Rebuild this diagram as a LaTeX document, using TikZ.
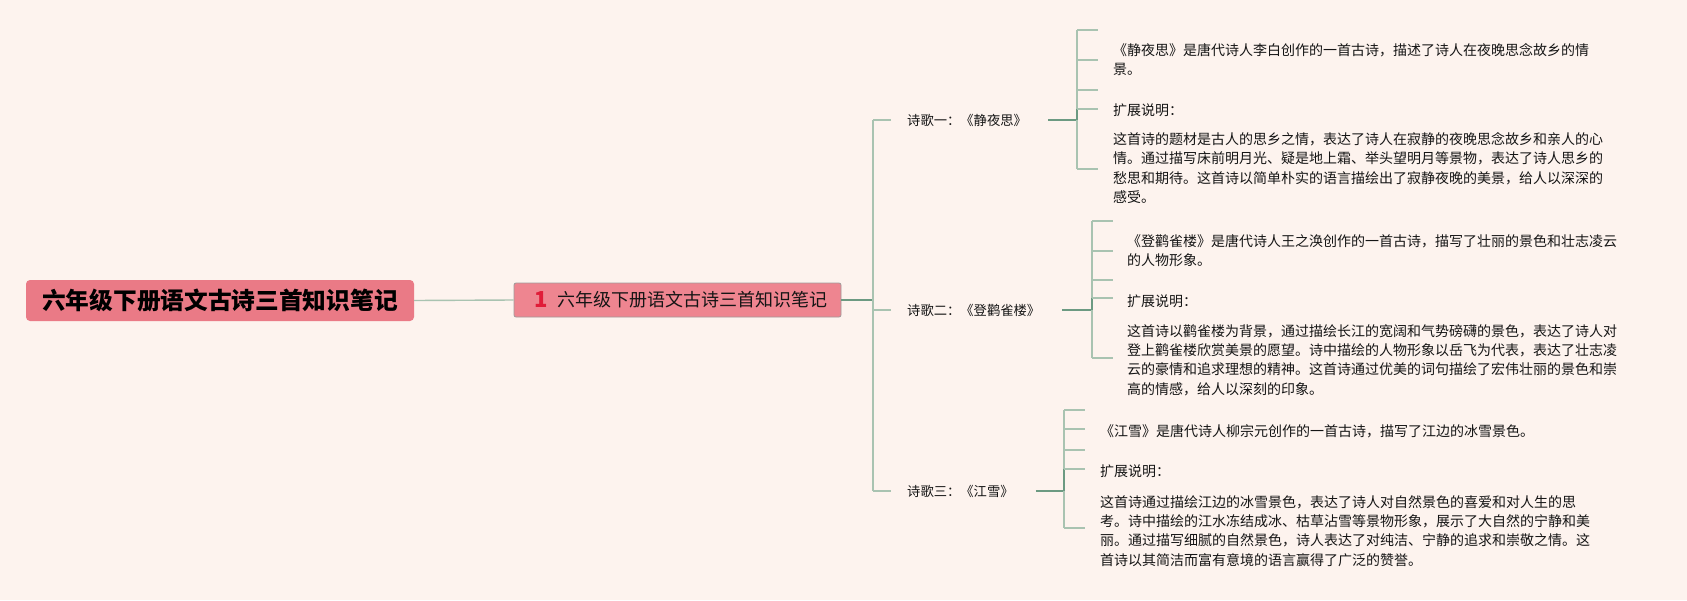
\documentclass[tikz,border=0pt]{standalone}
\usepackage{fontspec}
\setmainfont{Noto Sans CJK SC}
\definecolor{bgc}{HTML}{FDF3EE}
\definecolor{rootfill}{HTML}{EA7A86}
\definecolor{cenfill}{HTML}{EE8590}
\definecolor{cenborder}{HTML}{A09A9A}
\definecolor{numred}{HTML}{E01C38}
\definecolor{thinc}{HTML}{A9C3B1}
\definecolor{thickc}{HTML}{6C9A82}
\definecolor{txt}{HTML}{151515}
\tikzset{
  leaf/.style={anchor=west, inner sep=0pt, align=left, text=txt, font=\fontsize{14}{19.2}\selectfont},
  lab/.style={anchor=west, inner sep=0pt, text=txt, font=\fontsize{13.3}{16}\selectfont},
  thinline/.style={draw=thinc, line width=1.4pt},
  thickline/.style={draw=thickc, line width=2pt},
}
\begin{document}
\begin{tikzpicture}[x=1pt,y=-1pt]
\fill[bgc] (0,0) rectangle (1687,600);
\useasboundingbox (0,0) rectangle (1687,600);

% root
\node[fill=rootfill, rounded corners=4pt, minimum width=388pt, minimum height=41pt, inner sep=0pt,
  font=\fontsize{23.7}{26}\selectfont\bfseries, text=black] (root) at (220,300.5) {六年级下册语文古诗三首知识笔记};

% central
\node[fill=cenfill, draw=cenborder, line width=0.8pt, rounded corners=2pt, minimum width=327pt, minimum height=34pt, inner sep=0pt] (central) at (677.5,300) {};
\node[inner sep=0pt, text=numred, font=\fontsize{22}{22}\selectfont\bfseries] (num) at (541,300) {1};
\node[anchor=west, inner sep=0pt, text=txt, font=\fontsize{18}{20}\selectfont] (centxt) at (557,300) {六年级下册语文古诗三首知识笔记};

\draw[thinline] (root.east) -- (central.west);
\coordinate (J) at (873,300);
\draw[draw=thickc, line width=1.6pt] (central.east) -- (J);

% trunk
\coordinate (J1) at (873,120);
\coordinate (J2) at (873,310);
\coordinate (J3) at (873,491);
\draw[thinline] (J1) -- (J3);

% branch labels
\node[lab] (L1) at (907,120) {诗歌一：《静夜思》};
\node[lab] (L2) at (907,310) {诗歌二：《登鹳雀楼》};
\node[lab] (L3) at (907,491) {诗歌三：《江雪》};

\draw[thinline] (J1) -- ([xshift=-16pt]L1.west);
\draw[thinline] (J2) -- ([xshift=-16pt]L2.west);
\draw[thinline] (J3) -- ([xshift=-16pt]L3.west);

% ---------- poem 1 ----------
\coordinate (B1) at (1077,120);
\draw[thickline] ([xshift=21pt]L1.east) -- (B1);
\coordinate (B1a) at (1077,30);
\coordinate (B1b) at (1077,60);
\coordinate (B1c) at (1077,90);
\coordinate (B1d) at (1077,109);
\coordinate (B1e) at (1077,169);
\coordinate (E1a) at (1098,30);
\coordinate (E1c) at (1098,90);
\draw[thinline] (B1a) -- (B1e);
\draw[thickline] (B1d) -- (B1);
\node[leaf] (t11) at (1113,59.5) {《静夜思》是唐代诗人李白创作的一首古诗，描述了诗人在夜晚思念故乡的情\\景。};
\node[leaf] (t12) at (1113,110) {扩展说明：};
\node[leaf] (t13) at (1113,168) {这首诗的题材是古人的思乡之情，表达了诗人在寂静的夜晚思念故乡和亲人的心\\情。通过描写床前明月光、疑是地上霜、举头望明月等景物，表达了诗人思乡的\\愁思和期待。这首诗以简单朴实的语言描绘出了寂静夜晚的美景，给人以深深的\\感受。};
\draw[thinline] (B1a) -- (E1a);
\draw[thinline] (B1b) -- ([xshift=-15pt]t11.west |- B1b);
\draw[thinline] (B1c) -- (E1c);
\draw[thinline] (B1d) -- ([xshift=-15pt]t12.west |- B1d);
\draw[thinline] (B1e) -- ([xshift=-15pt]t13.west |- B1e);

% ---------- poem 2 ----------
\coordinate (B2) at (1092,310);
\draw[thickline] ([xshift=22pt]L2.east) -- (B2);
\coordinate (B2a) at (1092,221);
\coordinate (B2b) at (1092,251);
\coordinate (B2c) at (1092,280);
\coordinate (B2d) at (1092,298);
\coordinate (B2e) at (1092,358);
\coordinate (E2a) at (1113,221);
\coordinate (E2c) at (1113,280);
\draw[thinline] (B2a) -- (B2e);
\draw[thickline] (B2d) -- (B2);
\node[leaf] (t21) at (1127,251) {《登鹳雀楼》是唐代诗人王之涣创作的一首古诗，描写了壮丽的景色和壮志凌云\\的人物形象。};
\node[leaf] (t22) at (1127,301) {扩展说明：};
\node[leaf] (t23) at (1127,360) {这首诗以鹳雀楼为背景，通过描绘长江的宽阔和气势磅礴的景色，表达了诗人对\\登上鹳雀楼欣赏美景的愿望。诗中描绘的人物形象以岳飞为代表，表达了壮志凌\\云的豪情和追求理想的精神。这首诗通过优美的词句描绘了宏伟壮丽的景色和崇\\高的情感，给人以深刻的印象。};
\draw[thinline] (B2a) -- (E2a);
\draw[thinline] (B2b) -- ([xshift=-14pt]t21.west |- B2b);
\draw[thinline] (B2c) -- (E2c);
\draw[thinline] (B2d) -- ([xshift=-14pt]t22.west |- B2d);
\draw[thinline] (B2e) -- ([xshift=-14pt]t23.west |- B2e);

% ---------- poem 3 ----------
\coordinate (B3) at (1064,491);
\draw[thickline] ([xshift=22pt]L3.east) -- (B3);
\coordinate (B3a) at (1064,410);
\coordinate (B3b) at (1064,429);
\coordinate (B3c) at (1064,450);
\coordinate (B3d) at (1064,469);
\coordinate (B3e) at (1064,528);
\coordinate (E3a) at (1085,410);
\coordinate (E3c) at (1085,450);
\draw[thinline] (B3a) -- (B3e);
\draw[thickline] (B3d) -- (B3);
\node[leaf] (t31) at (1100,431) {《江雪》是唐代诗人柳宗元创作的一首古诗，描写了江边的冰雪景色。};
\node[leaf] (t32) at (1100,471) {扩展说明：};
\node[leaf] (t33) at (1100,531) {这首诗通过描绘江边的冰雪景色，表达了诗人对自然景色的喜爱和对人生的思\\考。诗中描绘的江水冻结成冰、枯草沾雪等景物形象，展示了大自然的宁静和美\\丽。通过描写细腻的自然景色，诗人表达了对纯洁、宁静的追求和崇敬之情。这\\首诗以其简洁而富有意境的语言赢得了广泛的赞誉。};
\draw[thinline] (B3a) -- (E3a);
\draw[thinline] (B3b) -- ([xshift=-15pt]t31.west |- B3b);
\draw[thinline] (B3c) -- (E3c);
\draw[thinline] (B3d) -- ([xshift=-15pt]t32.west |- B3d);
\draw[thinline] (B3e) -- ([xshift=-15pt]t33.west |- B3e);
\end{tikzpicture}
\end{document}
